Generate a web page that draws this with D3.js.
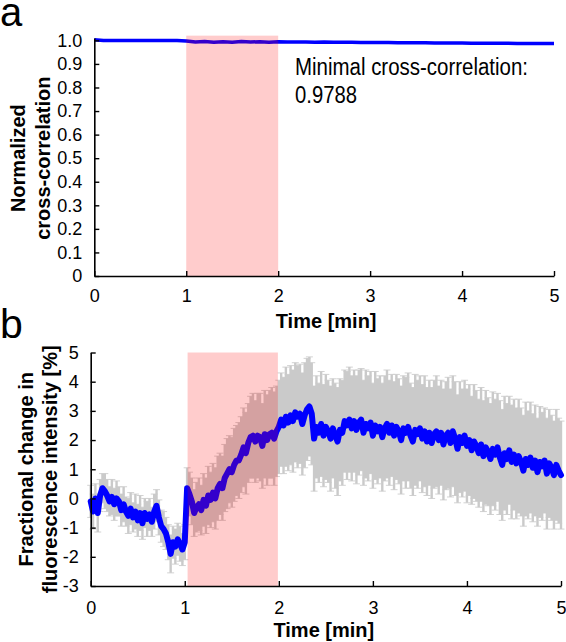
<!DOCTYPE html>
<html>
<head>
<meta charset="utf-8">
<script src="https://cdn.jsdelivr.net/npm/d3@7"></script>
<style>
  html, body { margin: 0; padding: 0; background: #fff; }
  svg { display: block; font-family: "Liberation Sans", Arial, Helvetica, sans-serif; }
</style>
</head>
<body>
<svg id="chart" width="566" height="642"></svg>
<script>
// ---------------- DATA ----------------
// Panel a: normalized cross-correlation, sampled every 0.1 min
const corrTimes = [0,0.1,0.2,0.3,0.4,0.5,0.6,0.7,0.8,0.9,1.0,
  1.1,1.2,1.3,1.4,1.5,1.6,1.7,1.8,1.9,2.0,
  2.1,2.2,2.3,2.4,2.5,2.6,2.7,2.8,2.9,3.0,3.1,3.2,3.3,3.4,3.5,3.6,3.7,3.8,3.9,4.0,
  4.1,4.2,4.3,4.4,4.5,4.6,4.7,4.8,4.9,5.0];
const corrValues = [1.003,0.999,0.999,0.999,0.999,0.999,0.999,0.999,0.999,0.999,0.997,
  0.993,0.995,0.992,0.994,0.992,0.995,0.993,0.994,0.992,0.994,
  0.993,0.993,0.993,0.992,0.993,0.992,0.992,0.992,0.991,0.991,0.991,0.991,0.990,0.990,0.990,0.990,0.989,0.989,0.989,0.989,
  0.988,0.988,0.988,0.988,0.988,0.987,0.987,0.987,0.987,0.987];
const corrYTicks = [0,0.1,0.2,0.3,0.4,0.5,0.6,0.7,0.8,0.9,1.0];
const timeTicks = [0,1,2,3,4,5];
const stimulusWindowA = [1.0, 2.0];
const annotationLines = ["Minimal cross-correlation:", "0.9788"];

// Panel b: fractional change in fluorescence intensity (%), one sample every 0.025 min
const sampleStepMin = 0.025;
const fluoValues = [
  // 0 .. 1.0
  -0.1,-0.45,0.0,-0.5,0.1,0.35,0.25,0.1,-0.1,0.05,
  -0.2,0.0,-0.1,-0.4,-0.2,-0.45,-0.6,-0.35,-0.65,-0.45,
  -0.75,-0.5,-0.85,-0.5,-0.7,-0.55,-0.8,-0.45,-0.25,-0.65,
  -0.95,-1.05,-1.2,-1.5,-1.9,-1.5,-1.65,-1.4,-1.55,-1.75,
  -1.5,
  // 1.025 .. 2.0
  0.35,0.15,-0.1,-0.5,-0.3,-0.2,-0.4,-0.05,-0.25,0.1,
  -0.05,0.2,0.0,0.35,0.5,0.35,0.7,0.85,1.0,0.9,
  1.15,1.3,1.3,1.5,1.75,1.55,1.9,2.1,2.15,1.95,
  2.15,2.1,1.8,2.2,2.0,2.2,2.25,2.05,2.3,2.45,
  // 2.025 .. 5.0
  2.7,2.5,2.8,2.6,2.85,2.65,2.95,2.8,2.9,2.55,
  2.85,3.05,3.15,2.9,2.05,2.45,2.25,2.55,2.15,2.45,
  2.3,2.05,2.4,2.15,1.95,2.35,2.25,2.65,2.5,2.7,
  2.4,2.65,2.35,2.6,2.7,2.25,2.55,2.4,2.6,2.15,
  2.5,2.3,2.45,2.1,2.4,2.55,2.25,2.5,2.15,2.45,
  2.3,2.0,2.4,2.25,2.45,2.15,1.95,2.35,2.2,2.4,
  2.05,2.3,1.95,2.25,1.9,2.2,2.3,2.0,2.25,1.85,
  2.15,2.25,1.9,2.3,2.05,1.7,2.1,1.9,2.15,1.8,
  2.0,1.65,1.95,1.8,1.55,1.85,1.45,1.75,1.6,1.35,
  1.7,1.5,1.75,1.4,1.15,1.55,1.35,1.65,1.25,1.5,
  1.2,1.45,1.25,0.95,1.35,1.15,1.4,1.05,1.3,0.9,
  1.25,1.1,1.3,0.85,1.2,1.05,0.8,1.15,0.95,0.8
];
const fluoErrors = [
  0.55,0.6,0.5,0.65,0.55,0.5,0.6,0.55,0.5,0.6,
  0.55,0.6,0.5,0.55,0.6,0.5,0.6,0.55,0.5,0.6,
  0.55,0.6,0.55,0.5,0.6,0.55,0.5,0.6,0.55,0.6,
  0.55,0.6,0.55,0.6,0.65,0.55,0.6,0.55,0.6,0.55,
  0.6,
  0.7,0.75,0.8,0.8,0.85,0.9,0.85,0.9,0.95,1.0,
  0.95,1.0,1.05,1.1,1.05,1.1,1.15,1.2,1.15,1.2,
  1.25,1.2,1.3,1.3,1.35,1.4,1.35,1.4,1.45,1.4,
  1.45,1.5,1.45,1.5,1.55,1.5,1.55,1.6,1.55,1.6,
  1.6,1.65,1.7,1.65,1.7,1.75,1.7,1.75,1.7,1.75,
  1.8,1.75,1.7,1.75,1.8,1.75,1.7,1.8,1.75,1.8,
  1.75,1.8,1.7,1.8,1.85,1.75,1.8,1.75,1.85,1.8,
  1.8,1.75,1.85,1.8,1.75,1.8,1.85,1.8,1.75,1.8,
  1.85,1.8,1.75,1.85,1.8,1.85,1.8,1.75,1.85,1.8,
  1.8,1.85,1.8,1.9,1.85,1.8,1.85,1.9,1.85,1.8,
  1.85,1.9,1.85,1.8,1.9,1.85,1.9,1.85,1.8,1.9,
  1.85,1.9,1.85,1.9,1.95,1.85,1.9,1.85,1.9,1.95,
  1.9,1.85,1.95,1.9,1.85,1.95,1.9,1.95,1.85,1.9,
  1.95,1.9,1.85,1.95,1.9,1.95,1.9,1.85,1.95,1.9,
  1.9,1.95,1.85,1.9,1.95,1.85,1.9,1.85,1.9,1.85,
  1.9,1.85,1.8,1.9,1.85,1.8,1.85,1.9,1.8,1.85
];
const fluoYTicks = [-3,-2,-1,0,1,2,3,4,5];
const stimulusWindowB = [1.03, 1.99];

// ---------------- DRAW ----------------
const svg = d3.select("#chart");
const tickFont = 18, labelFont = 20;
const pink = "rgba(255,0,0,0.2)";
const blue = "#0000ff";

function styleAxis(g) {
  g.select(".domain").attr("stroke", "#000").attr("stroke-width", 1.6);
  g.selectAll(".tick line").attr("stroke", "#000").attr("stroke-width", 1.4);
  g.selectAll(".tick text").attr("font-size", tickFont).attr("fill", "#000")
    .attr("font-family", "'Liberation Sans', Arial, sans-serif");
}

// ----- Panel a -----
const xA = d3.scaleLinear().domain([0, 5]).range([94.3, 554]);
const yA = d3.scaleLinear().domain([0, 1.01]).range([276, 38]);

svg.append("path")
  .datum(corrTimes.map((t, i) => [t, corrValues[i]]))
  .attr("fill", "none").attr("stroke", blue).attr("stroke-width", 3.5)
  .attr("stroke-linejoin", "round")
  .attr("d", d3.line().x(d => xA(d[0])).y(d => yA(d[1])));

svg.append("rect")
  .attr("x", xA(stimulusWindowA[0])).attr("width", xA(stimulusWindowA[1]) - xA(stimulusWindowA[0]))
  .attr("y", yA(1.02)).attr("height", yA(0) - yA(1.02))
  .attr("fill", pink);

const axAx = svg.append("g").attr("transform", `translate(0,${yA(0)})`)
  .call(d3.axisBottom(xA).tickValues(timeTicks).tickSizeInner(-5).tickSizeOuter(0).tickPadding(13).tickFormat(d3.format("d")));
styleAxis(axAx);
const ayA = svg.append("g").attr("transform", `translate(${xA(0)},0)`)
  .call(d3.axisLeft(yA).tickValues(corrYTicks).tickSizeInner(-5).tickSizeOuter(0).tickPadding(12)
    .tickFormat(d => d === 0 ? "0" : d3.format(".1f")(d)));
styleAxis(ayA);

svg.append("text").attr("x", 0).attr("y", 26).attr("font-size", 40).text("a");

svg.append("text").attr("x", (xA(0) + xA(5)) / 2 + 2).attr("y", 328)
  .attr("text-anchor", "middle").attr("font-size", labelFont).attr("font-weight", "bold").text("Time [min]");

const yLabA = svg.append("text").attr("transform", `translate(0,${(yA(0) + yA(1)) / 2}) rotate(-90)`)
  .attr("text-anchor", "middle").attr("font-size", labelFont).attr("font-weight", "bold");
yLabA.append("tspan").attr("x", 0).attr("y", 25).text("Normalized");
yLabA.append("tspan").attr("x", 0).attr("y", 50).text("cross-correlation");

const ann = svg.append("text").attr("font-size", 23)
  .attr("font-family", "'Liberation Sans Narrow', 'Arial Narrow', 'Liberation Sans', sans-serif");
ann.append("tspan").attr("x", 295).attr("y", 75).attr("textLength", 233).attr("lengthAdjust", "spacingAndGlyphs").text(annotationLines[0]);
ann.append("tspan").attr("x", 295).attr("y", 103).attr("textLength", 62).attr("lengthAdjust", "spacingAndGlyphs").text(annotationLines[1]);

// ----- Panel b -----
const xB = d3.scaleLinear().domain([0, 5]).range([90.7, 561]);
const yB = d3.scaleLinear().domain([-3, 5]).range([586, 352.5]);
const pts = fluoValues.map((v, i) => ({ t: i * sampleStepMin, v, e: fluoErrors[i] }));

const cap = 3.5;
let stemPath = "", capPath = "";
pts.forEach(p => {
  const x = xB(p.t), y0 = yB(p.v - p.e), y1 = yB(p.v + p.e);
  stemPath += `M${x},${y0}V${y1}`;
  capPath += `M${x - cap},${y0}H${x + cap}M${x - cap},${y1}H${x + cap}`;
});
svg.append("path").attr("d", capPath).attr("fill", "none").attr("stroke", "#d2d2d2").attr("stroke-width", 1);
svg.append("path").attr("d", stemPath).attr("fill", "none").attr("stroke", "#cacaca").attr("stroke-width", 2.4);

svg.append("path").datum(pts)
  .attr("fill", "none").attr("stroke", blue).attr("stroke-width", 6)
  .attr("stroke-linejoin", "round").attr("stroke-linecap", "round")
  .attr("d", d3.line().x(d => xB(d.t)).y(d => yB(d.v)));

svg.append("rect")
  .attr("x", xB(stimulusWindowB[0])).attr("width", xB(stimulusWindowB[1]) - xB(stimulusWindowB[0]))
  .attr("y", yB(5)).attr("height", yB(-3) - yB(5))
  .attr("fill", pink);

const axB = svg.append("g").attr("transform", `translate(0,${yB(-3)})`)
  .call(d3.axisBottom(xB).tickValues(timeTicks).tickSizeInner(-5).tickSizeOuter(0).tickPadding(15).tickFormat(d3.format("d")));
styleAxis(axB);
const ayB = svg.append("g").attr("transform", `translate(${xB(0)},0)`)
  .call(d3.axisLeft(yB).tickValues(fluoYTicks).tickSizeInner(-5).tickSizeOuter(0).tickPadding(12).tickFormat(d => String(d)));
styleAxis(ayB);

svg.append("text").attr("x", 0).attr("y", 338).attr("font-size", 41).text("b");

svg.append("text").attr("x", (xB(0) + xB(5)) / 2 - 2).attr("y", 637)
  .attr("text-anchor", "middle").attr("font-size", labelFont).attr("font-weight", "bold").text("Time [min]");

const yLabB = svg.append("text").attr("transform", `translate(0,${(yB(-3) + yB(5)) / 2}) rotate(-90)`)
  .attr("text-anchor", "middle").attr("font-size", labelFont).attr("font-weight", "bold");
yLabB.append("tspan").attr("x", 0).attr("y", 33).text("Fractional change in");
yLabB.append("tspan").attr("x", 0).attr("y", 57).text("fluorescence intensity [%]");
</script>
</body>
</html>
